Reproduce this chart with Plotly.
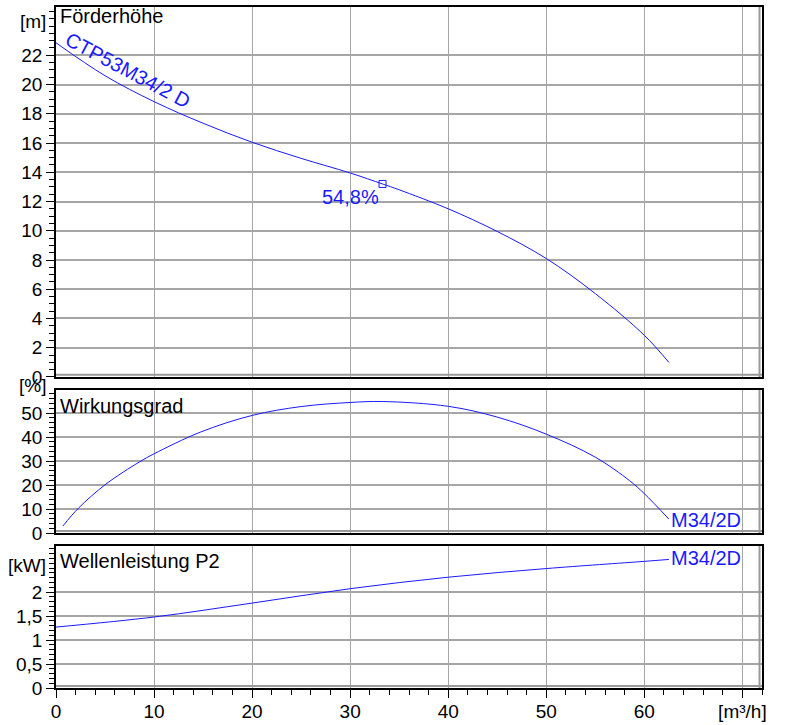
import plotly.graph_objects as go

# ---- data ----
q_head = [0, 5, 10, 15, 20, 25, 30, 33.3, 35, 40, 45, 50, 55, 60, 62.5]
h_head = [22.85, 20.6, 18.83, 17.35, 16.05, 14.95, 13.95, 13.2, 12.8, 11.5, 9.95, 8.1, 5.7, 2.85, 1.0]

q_eff = [0.7, 2.3, 5.1, 8.5, 10, 14.7, 20, 25, 30, 33.3, 40, 45, 50, 55, 58.5, 60, 62.5]
eff = [2.9, 10.4, 20.4, 29.6, 33.0, 42.0, 49.0, 52.7, 54.4, 54.8, 52.8, 48.3, 41.2, 31.6, 21.8, 16.4, 5.8]

q_pow = [0, 10, 20, 30, 40, 50, 60, 62.5]
p2 = [1.27, 1.48, 1.77, 2.07, 2.31, 2.49, 2.64, 2.68]

bep_q = [33.3]
bep_h = [13.2]
bep_label = "54,8%"

x_ticks = [0, 10, 20, 30, 40, 50, 60, 70]
x_ticktext = ["0", "10", "20", "30", "40", "50", "60", "[m³/h]"]
y1_ticks = list(range(0, 23, 2))
y2_ticks = [0, 10, 20, 30, 40, 50]
y3_ticks = [0, 0.5, 1, 1.5, 2]

BLUE = "#1a1aff"
GRID = "#a6a6a6"
FONT = "Liberation Sans, Arial, sans-serif"
TICKSIZE = 19
ANNSIZE = 20

fig = go.Figure()
fig.add_trace(go.Scatter(x=q_head, y=h_head, mode="lines", line=dict(color=BLUE, width=1, shape="spline"),
                         xaxis="x", yaxis="y", showlegend=False))
fig.add_trace(go.Scatter(x=bep_q, y=bep_h, mode="markers",
                         marker=dict(symbol="square-open", size=7, color=BLUE, line=dict(width=1)),
                         xaxis="x", yaxis="y", showlegend=False))
fig.add_trace(go.Scatter(x=q_eff, y=eff, mode="lines", line=dict(color=BLUE, width=1, shape="spline"),
                         xaxis="x2", yaxis="y2", showlegend=False))
fig.add_trace(go.Scatter(x=q_pow, y=p2, mode="lines", line=dict(color=BLUE, width=1, shape="spline"),
                         xaxis="x3", yaxis="y3", showlegend=False))

def xax(domain_anchor, show_labels):
    d = dict(range=[0, 72], domain=[0, 1], anchor=domain_anchor, automargin=False,
             tickvals=x_ticks, ticktext=x_ticktext,
             showgrid=True, gridcolor=GRID, gridwidth=1,
             showline=True, linecolor="black", linewidth=1.5, mirror=True,
             zeroline=False, tickfont=dict(size=TICKSIZE, color="black", family=FONT))
    if show_labels:
        d.update(ticks="outside", ticklen=8, tickcolor="black", tickwidth=1, showticklabels=True,
                 ticklabelstandoff=-3,
                 minor=dict(dtick=2, ticks="outside", ticklen=5, tickcolor="black", showgrid=False))
    else:
        d.update(ticks="", showticklabels=False)
    return d

def yax(rng, domain, anchor, ticks, minor_dtick):
    return dict(range=rng, domain=domain, anchor=anchor, tickvals=ticks, automargin=False,
                showgrid=True, gridcolor=GRID, gridwidth=1.5,
                showline=True, linecolor="black", linewidth=1.5, mirror=True,
                zeroline=False, ticks="outside", ticklen=8, tickcolor="black", tickwidth=1,
                minor=dict(dtick=minor_dtick, ticks="outside", ticklen=5, tickcolor="black", showgrid=False),
                tickfont=dict(size=TICKSIZE, color="black", family=FONT))

domains = [[0.4567, 1], [0.2276, 0.4376], [0, 0.2085]]

fig.update_layout(
    width=791, height=725,
    margin=dict(l=56, r=29, t=7, b=37),
    paper_bgcolor="white", plot_bgcolor="white",
    separators=",.",
    font=dict(family=FONT, size=16, color="black"),
    xaxis=xax("y", False),
    xaxis2=xax("y2", False),
    xaxis3=xax("y3", True),
    yaxis=yax([0, 25.3], domains[0], "x", y1_ticks, 0.5),
    yaxis2=yax([0, 59.6], domains[1], "x2", y2_ticks, 2),
    yaxis3=yax([0, 2.96], domains[2], "x3", y3_ticks, 0.1),
)

# 3D-style inner gray edge on right and bottom of each panel
shapes = []
for i, dom in enumerate(domains):
    xr = "x domain" if i == 0 else f"x{i+1} domain"
    yr = "y domain" if i == 0 else f"y{i+1} domain"
    shapes.append(dict(type="line", xref=xr, yref=yr, x0=0.9965, x1=0.9965, y0=0, y1=1,
                       line=dict(color="#9a9a9a", width=2)))
    shapes.append(dict(type="line", xref=xr, yref=yr, x0=0, x1=1, y0=0.006 if i == 0 else 0.014,
                       y1=0.006 if i == 0 else 0.014, line=dict(color="#9a9a9a", width=2)))
fig.update_layout(shapes=shapes)

ann = []
def add(text, x, y, xref, yref, xanchor="left", yanchor="middle", color="black", angle=0, size=ANNSIZE):
    ann.append(dict(text=text, x=x, y=y, xref=xref, yref=yref, xanchor=xanchor, yanchor=yanchor,
                    showarrow=False, textangle=angle, font=dict(size=size, color=color, family=FONT)))

add("Förderhöhe", 0.003, 1.01, "x domain", "y domain", yanchor="top")
add("[m]", -0.012, 24.3, "x domain", "y", xanchor="right", size=TICKSIZE)
add("CTP53M34/2 D", 7.3, 21.0, "x", "y", xanchor="center", color=BLUE, angle=28)
add(bep_label, 30.0, 12.3, "x", "y", xanchor="center", color=BLUE)

add("Wirkungsgrad", 0.003, 0.98, "x2 domain", "y2 domain", yanchor="top")
add("[%]", -0.012, 1.03, "x2 domain", "y2 domain", xanchor="right", size=TICKSIZE)
add("M34/2D", q_eff[-1], eff[-1] - 0.5, "x2", "y2", xanchor="left", color=BLUE)

add("Wellenleistung P2", 0.003, 0.985, "x3 domain", "y3 domain", yanchor="top")
add("[kW]", -0.012, 2.55, "x3 domain", "y3", xanchor="right", size=TICKSIZE)
add("M34/2D", q_pow[-1], p2[-1] + 0.02, "x3", "y3", xanchor="left", color=BLUE)

fig.update_layout(annotations=ann)
fig.write_html("out.html", config={"displayModeBar": False},
               post_script="document.body.style.margin='0';document.body.style.overflow='hidden';")
